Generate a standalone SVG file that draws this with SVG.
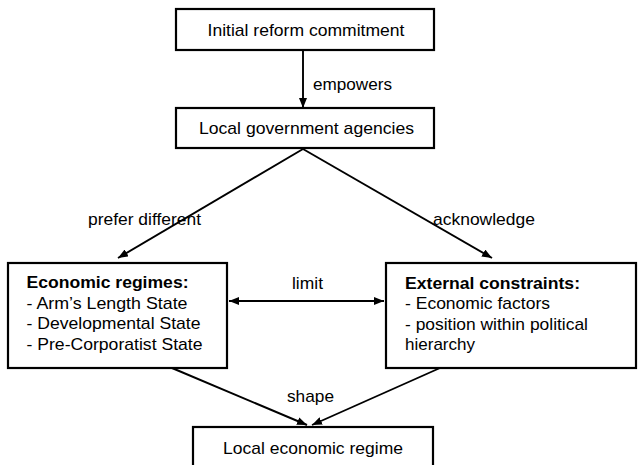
<svg xmlns="http://www.w3.org/2000/svg" width="638" height="465" viewBox="0 0 638 465">
<style>
.box{fill:#fff;stroke:#000;stroke-width:2.2}
.t{font-family:"Liberation Sans",Arial,sans-serif;font-size:17px;fill:#000}
.b{font-weight:bold}
.c{fill:none;stroke:#000;stroke-width:1.9}
</style>
<defs>
<marker id="ah" viewBox="0 0 10 8" refX="10" refY="4" markerWidth="10" markerHeight="8" markerUnits="userSpaceOnUse" orient="auto-start-reverse">
<path d="M0,0 L10,4 L0,8 Z" fill="#000"/>
</marker>
</defs>
<rect width="638" height="465" fill="#fff"/>
<g id="connectors">
<line class="c" x1="303" y1="50" x2="303" y2="108" marker-end="url(#ah)"/>
<line class="c" x1="303" y1="149" x2="118" y2="258" marker-end="url(#ah)"/>
<line class="c" x1="303" y1="149" x2="492" y2="258" marker-end="url(#ah)"/>
<line class="c" x1="229" y1="301" x2="384" y2="301" marker-start="url(#ah)" marker-end="url(#ah)"/>
<line class="c" x1="172" y1="368" x2="307" y2="425" marker-end="url(#ah)"/>
<line class="c" x1="440" y1="368" x2="312" y2="425" marker-end="url(#ah)"/>
<text class="t" x="313" y="89.5" textLength="79" lengthAdjust="spacingAndGlyphs">empowers</text>
<text class="t" x="88" y="224.5" textLength="113" lengthAdjust="spacingAndGlyphs">prefer different</text>
<text class="t" x="433" y="224.5" textLength="102" lengthAdjust="spacingAndGlyphs">acknowledge</text>
<text class="t" x="292" y="288.5" textLength="31" lengthAdjust="spacingAndGlyphs">limit</text>
<text class="t" x="287" y="401.5" textLength="47" lengthAdjust="spacingAndGlyphs">shape</text>
</g>
<g id="n1">
<rect class="box" x="176" y="9" width="258" height="41"/>
<text class="t" x="207.5" y="36" textLength="197" lengthAdjust="spacingAndGlyphs">Initial reform commitment</text>
</g>
<g id="n2">
<rect class="box" x="176" y="108" width="258" height="40"/>
<text class="t" x="199" y="134" textLength="215" lengthAdjust="spacingAndGlyphs">Local government agencies</text>
</g>
<g id="n3">
<rect class="box" x="8" y="263" width="219" height="105"/>
<text class="t b" x="26.5" y="288" textLength="162" lengthAdjust="spacingAndGlyphs">Economic regimes:</text>
<text class="t" x="26.5" y="308.5" textLength="161" lengthAdjust="spacingAndGlyphs">- Arm’s Length State</text>
<text class="t" x="26.5" y="329" textLength="174" lengthAdjust="spacingAndGlyphs">- Developmental State</text>
<text class="t" x="26.5" y="349.5" textLength="176" lengthAdjust="spacingAndGlyphs">- Pre-Corporatist State</text>
</g>
<g id="n4">
<rect class="box" x="386" y="263" width="250" height="105"/>
<text class="t b" x="405" y="288.5" textLength="175" lengthAdjust="spacingAndGlyphs">External constraints:</text>
<text class="t" x="405" y="309" textLength="145" lengthAdjust="spacingAndGlyphs">- Economic factors</text>
<text class="t" x="405" y="329.5" textLength="183" lengthAdjust="spacingAndGlyphs">- position within political</text>
<text class="t" x="405" y="350" textLength="70" lengthAdjust="spacingAndGlyphs">hierarchy</text>
</g>
<g id="n5">
<rect class="box" x="193" y="427" width="240" height="50"/>
<text class="t" x="223" y="454" textLength="180" lengthAdjust="spacingAndGlyphs">Local economic regime</text>
</g>
</svg>
